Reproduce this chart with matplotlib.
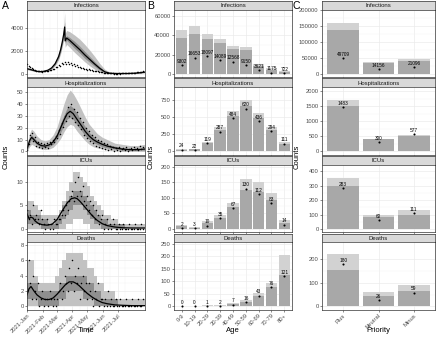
import numpy as np
import matplotlib
matplotlib.use('Agg')
import matplotlib.pyplot as plt
import matplotlib.dates as mdates
from matplotlib.ticker import FixedLocator, FuncFormatter

plt.rcParams['font.family'] = ['Liberation Sans', 'DejaVu Sans']

# ---------------- DATA ----------------
START = np.datetime64('2021-01-01')
END = np.datetime64('2021-08-24')

# Panel A: Infections
inf_days = [0, 7, 14, 21, 28, 35, 42, 49, 56, 63, 67, 70, 73, 75, 76, 79, 85, 95, 105, 115, 125, 135, 145, 155, 165, 180, 200, 220, 234]
inf_mid = [450, 380, 290, 220, 200, 240, 330, 520, 880, 1500, 2100, 2700, 3400, 4050, 2850, 3100, 2900, 2500, 2100, 1650, 1250, 850, 480, 180, 60, 40, 40, 80, 150]
inf_out_hi = [560, 470, 360, 280, 250, 300, 410, 640, 1060, 1800, 2450, 3100, 3900, 5300, 3500, 3750, 3650, 3350, 3000, 2550, 2050, 1500, 900, 400, 150, 80, 70, 120, 230]
inf_out_lo = [360, 300, 230, 170, 155, 185, 260, 410, 710, 1220, 1750, 2300, 2900, 3200, 2300, 2550, 2300, 1850, 1450, 1050, 700, 400, 150, 40, 10, 10, 10, 40, 90]
inf_in_hi = [500, 420, 320, 245, 225, 265, 365, 580, 970, 1650, 2300, 2900, 3650, 4500, 3050, 3300, 3150, 2800, 2400, 1950, 1500, 1050, 620, 250, 90, 55, 50, 95, 180]
inf_in_lo = [400, 340, 260, 195, 175, 215, 295, 460, 790, 1350, 1900, 2500, 3150, 3600, 2650, 2900, 2650, 2200, 1800, 1350, 1000, 650, 340, 110, 35, 25, 25, 60, 120]
inf_obs = [850, 720, 600, 480, 400, 330, 280, 260, 230, 240,
           210, 250, 230, 290, 270, 350, 330, 460, 420, 600,
           560, 780, 690, 980, 820, 1050, 880, 1000, 820, 930,
           760, 820, 660, 730, 580, 620, 500, 530, 430, 450,
           380, 400, 320, 340, 280, 270, 230, 220, 170, 150,
           130, 100, 90, 70, 60, 50, 40, 40, 30, 35,
           30, 40, 35, 45, 40, 55, 50, 70, 60, 90,
           80, 110, 100, 140, 130, 180, 170, 230]

# Panel A: Hospitalizations
hosp_days = [0, 5, 9, 14, 20, 28, 36, 44, 52, 60, 67, 74, 80, 86, 92, 100, 108, 116, 124, 132, 140, 150, 160, 175, 190, 205, 220, 234]
hosp_mid = [2, 9, 12, 10, 7, 5, 4.5, 5.5, 8, 13, 20, 27, 32, 34, 32, 27, 22, 17, 13, 10, 8, 6, 4.5, 3, 2, 1.5, 1.5, 2]
hosp_out_hi = [5, 15, 19, 17, 13, 10, 9, 10, 14, 21, 31, 41, 48, 52, 49, 43, 36, 29, 23, 19, 15, 12, 10, 7, 6, 5, 5, 6]
hosp_out_lo = [0, 4, 6, 5, 3, 2, 1.5, 2, 3.5, 7, 11, 17, 21, 23, 22, 17, 13, 9, 6, 4, 3, 2, 1, 0.5, 0, 0, 0, 0]
hosp_in_hi = [3, 11, 14, 12, 9, 6.5, 6, 7, 10, 16, 24, 31, 37, 39, 37, 32, 26, 21, 16, 13, 10, 8, 6, 4.5, 3, 2.5, 2.5, 3]
hosp_in_lo = [1, 7, 10, 8, 5.5, 3.5, 3, 4, 6, 10.5, 16, 23, 27.5, 29, 27, 22, 18, 13, 10, 7.5, 6, 4, 3, 2, 1, 1, 1, 1]
hosp_obs = [1, 6, 14, 16, 9, 12, 5, 8, 4, 7,
            3, 6, 4, 7, 3, 8, 6, 10, 8, 13,
            11, 18, 15, 24, 21, 30, 26, 38, 30, 40,
            28, 36, 25, 33, 22, 28, 19, 25, 14, 20,
            11, 17, 9, 14, 7, 12, 5, 10, 4, 9,
            3, 7, 2, 6, 1, 5, 2, 4, 0, 3,
            1, 4, 0, 2, 3, 1, 4, 0, 2, 3,
            1, 4, 2, 3, 1, 5, 2, 4]

# Panel A: ICUs
icu_days = [0, 4, 8, 12, 16, 22, 30, 40, 50, 60, 70, 80, 88, 95, 100, 106, 114, 122, 130, 140, 150, 160, 175, 190, 210, 234]
icu_mid = [3.2, 2.2, 2.5, 2.3, 1.7, 1.2, 0.9, 0.8, 1.0, 2.0, 3.8, 5.5, 6.4, 6.6, 6.4, 5.8, 4.8, 3.8, 2.8, 1.8, 1.1, 0.7, 0.4, 0.25, 0.2, 0.2]
icu_out_hi = [6, 6, 5, 4, 3, 3, 3, 3, 3, 4, 6, 8, 10, 12, 12, 11, 10, 9, 7, 6, 5, 4, 3, 3, 2, 2, 1, 1, 1, 1, 1, 1, 1, 1]
icu_out_lo = [0, 0, 0, 0, 0, 0, 0, 0, 0, 0, 0, 1, 1, 2, 2, 2, 1, 1, 0, 0, 0, 0, 0, 0, 0, 0, 0, 0, 0, 0, 0, 0, 0, 0]
icu_in_hi = [4, 3, 3, 3, 2, 2, 1, 1, 2, 3, 5, 6, 7, 8, 8, 8, 7, 6, 5, 4, 3, 2, 2, 1, 1, 1, 1, 1, 0, 0, 0, 0, 0, 0]
icu_in_lo = [1, 1, 1, 1, 0, 0, 0, 0, 0, 1, 2, 3, 4, 5, 5, 5, 4, 3, 2, 1, 1, 0, 0, 0, 0, 0, 0, 0, 0, 0, 0, 0, 0, 0]
icu_obs = [4, 2, 3, 1, 5, 2, 3, 2, 1, 4,
           2, 1, 0, 2, 1, 0, 1, 0, 2, 1,
           1, 2, 2, 3, 4, 3, 5, 4, 6, 7,
           8, 6, 10, 7, 11, 8, 7, 9, 6, 5,
           7, 4, 6, 3, 5, 2, 4, 3, 1, 2,
           3, 0, 1, 2, 0, 1, 0, 2, 1, 0,
           0, 1, 0, 0, 1, 0, 0, 0, 1, 0,
           0, 0, 1, 0, 0, 0, 1, 0]

# Panel A: Deaths
dth_days = [0, 4, 8, 14, 20, 28, 36, 44, 52, 60, 68, 76, 84, 92, 98, 104, 112, 120, 130, 140, 150, 160, 175, 190, 210, 234]
dth_mid = [1.5, 2.3, 2.6, 2.0, 1.5, 1.1, 0.9, 0.9, 1.1, 1.6, 2.2, 2.8, 3.2, 3.2, 3.0, 2.7, 2.2, 1.7, 1.2, 0.8, 0.5, 0.35, 0.2, 0.15, 0.1, 0.1]
dth_out_hi = [6, 6, 4, 3, 3, 3, 3, 3, 4, 5, 6, 7, 7, 7, 7, 7, 6, 5, 5, 4, 3, 3, 2, 2, 2, 1, 1, 1, 1, 1, 1, 1, 1, 1]
dth_out_lo = [0, 0, 0, 0, 0, 0, 0, 0, 0, 0, 0, 0, 0, 0, 0, 0, 0, 0, 0, 0, 0, 0, 0, 0, 0, 0, 0, 0, 0, 0, 0, 0, 0, 0]
dth_in_hi = [3, 3, 3, 2, 2, 2, 2, 2, 2, 3, 3, 4, 4, 4, 4, 4, 4, 3, 3, 2, 2, 1, 1, 1, 1, 1, 0, 0, 0, 0, 0, 0, 0, 0]
dth_in_lo = [1, 1, 1, 0, 0, 0, 0, 0, 0, 1, 1, 2, 2, 2, 2, 2, 1, 1, 1, 0, 0, 0, 0, 0, 0, 0, 0, 0, 0, 0, 0, 0, 0, 0]
dth_obs = [2, 6, 3, 1, 4, 2, 1, 3, 0, 1,
           2, 0, 1, 1, 0, 2, 1, 0, 1, 0,
           1, 2, 3, 1, 2, 4, 3, 2, 5, 3,
           6, 2, 4, 3, 5, 1, 3, 4, 2, 3,
           1, 3, 2, 1, 0, 2, 1, 3, 0, 1,
           1, 0, 1, 0, 2, 0, 1, 0, 0, 1,
           0, 0, 1, 0, 0, 0, 1, 0, 0, 0,
           1, 0, 0, 0, 1, 0, 0, 1]

# Panel B: by age
age_groups = ["0-9", "10-19", "20-29", "30-39", "40-49", "50-59", "60-69", "70-79", "80+"]
B_inf_med = [37000, 41000, 36000, 32000, 26000, 25000, 8500, 4000, 2000]
B_inf_hi = [45000, 50000, 41000, 36000, 29000, 28000, 10500, 6000, 3000]
B_inf_obs = [9302, 16653, 18097, 14089, 12568, 9150, 3621, 1175, 722]
B_hosp_med = [25, 30, 118, 305, 515, 655, 480, 305, 108]
B_hosp_hi = [35, 40, 140, 350, 580, 740, 560, 360, 135]
B_hosp_obs = [24, 22, 119, 287, 484, 620, 436, 294, 111]
B_icu_med = [10, 4, 18, 36, 72, 125, 118, 92, 20]
B_icu_hi = [14, 7, 24, 45, 85, 160, 150, 115, 28]
B_icu_obs = [2, 3, 10, 35, 67, 130, 112, 83, 14]
B_dth_med = [0.5, 0.5, 2, 3, 8, 18, 42, 78, 125]
B_dth_hi = [1, 1, 4, 5, 12, 25, 55, 95, 205]
B_dth_obs = [0, 0, 1, 2, 7, 16, 43, 76, 121]

# Panel C: by priority
priority = ["Plus", "Neutral", "Minus"]
C_inf_med = [137000, 33000, 40000]
C_inf_hi = [160000, 38000, 47000]
C_inf_obs = [49709, 14156, 21096]
C_hosp_med = [1520, 400, 500]
C_hosp_hi = [1700, 430, 560]
C_hosp_obs = [1483, 300, 577]
C_icu_med = [300, 80, 100]
C_icu_hi = [350, 95, 130]
C_icu_obs = [283, 60, 111]
C_dth_med = [155, 45, 65]
C_dth_hi = [225, 60, 90]
C_dth_obs = [180, 26, 59]

facets = ["Infections", "Hospitalizations", "ICUs", "Deaths"]

# ---------------- LAYOUT ----------------
W, H = 440, 337
fig = plt.figure(figsize=(4.4, 3.37), dpi=100)
fig.patch.set_facecolor('white')

def rect(x0, x1, y0, y1):
    return [x0 / W, 1 - y1 / H, (x1 - x0) / W, (y1 - y0) / H]

strip_tops = [1, 78.5, 156, 233.5]
SH, PB = 8.5, 76
cols = {'A': (27, 145), 'B': (174, 292), 'C': (322, 435)}
TICK_FS = 4.2

def make_panel(col, row, title):
    x0, x1 = cols[col]
    t = strip_tops[row]
    sax = fig.add_axes(rect(x0, x1, t, t + SH))
    sax.set_facecolor('#D9D9D9')
    sax.set_xticks([]); sax.set_yticks([])
    for s in sax.spines.values():
        s.set_color('#333333'); s.set_linewidth(0.5)
    sax.text(0.5, 0.45, title, ha='center', va='center', fontsize=4.3,
             color='#1A1A1A', transform=sax.transAxes)
    ax = fig.add_axes(rect(x0, x1, t + SH, t + PB))
    ax.set_facecolor('white')
    for s in ax.spines.values():
        s.set_color('#333333'); s.set_linewidth(0.5)
    ax.set_axisbelow(True)
    ax.grid(which='major', color='#EBEBEB', lw=0.5)
    ax.grid(which='minor', color='#F2F2F2', lw=0.3)
    ax.tick_params(which='major', length=1.5, width=0.4, color='#333333',
                   labelsize=TICK_FS, labelcolor='#4D4D4D', pad=1)
    ax.tick_params(which='minor', length=0)
    return ax

def set_y(ax, ticks, lo, hi):
    ax.set_ylim(lo, hi)
    ax.yaxis.set_major_locator(FixedLocator(ticks))
    mids = [(a + b) / 2 for a, b in zip(ticks[:-1], ticks[1:])]
    ax.yaxis.set_minor_locator(FixedLocator(mids))
    ax.yaxis.set_major_formatter(FuncFormatter(lambda v, p: f"{v:g}" if abs(v) < 1e5 else f"{int(v)}"))

def to_dates(days):
    return START + np.array(days).astype('timedelta64[D]')

LIGHT, DARK = '#C2C2C2', '#8F8F8F'

# ---- Panel A ----
a_specs = [
    (inf_days, inf_mid, inf_out_lo, inf_out_hi, inf_in_lo, inf_in_hi, inf_obs, False, [0, 2000, 4000], (-265, 5565)),
    (hosp_days, hosp_mid, hosp_out_lo, hosp_out_hi, hosp_in_lo, hosp_in_hi, hosp_obs, False, [0, 10, 20, 30, 40, 50], (-2.6, 54.6)),
    (icu_days, icu_mid, icu_out_lo, icu_out_hi, icu_in_lo, icu_in_hi, icu_obs, True, [0, 5, 10], (-0.65, 13.65)),
    (dth_days, dth_mid, dth_out_lo, dth_out_hi, dth_in_lo, dth_in_hi, dth_obs, True, [0, 2, 4, 6, 8], (-0.4, 8.4)),
]
for r, (d, mid, olo, ohi, ilo, ihi, obs, step, yt, yl) in enumerate(a_specs):
    ax = make_panel('A', r, facets[r])
    if step:
        wd = list(np.arange(len(ohi)) * 7) + [235]
        x = to_dates(wd)
        ax.fill_between(x, olo + [olo[-1]], ohi + [ohi[-1]], step='post', color=LIGHT, lw=0)
        ax.fill_between(x, ilo + [ilo[-1]], ihi + [ihi[-1]], step='post', color=DARK, lw=0)
    else:
        x = to_dates(d)
        ax.fill_between(x, olo, ohi, color=LIGHT, lw=0)
        ax.fill_between(x, ilo, ihi, color=DARK, lw=0)
    ax.plot(to_dates(np.arange(len(obs)) * 3), obs, 'o', ms=1.1, color='black', mew=0)
    ax.plot(to_dates(d), mid, color='black', lw=0.9)
    set_y(ax, yt, *yl)
    ax.set_xlim(START, END)
    ax.xaxis.set_major_locator(mdates.MonthLocator(bymonth=range(1, 8)))
    ax.xaxis.set_minor_locator(mdates.MonthLocator(bymonthday=16))
    ax.xaxis.set_major_formatter(mdates.DateFormatter('%Y-%b'))
    if r < 3:
        ax.tick_params(axis='x', labelbottom=False)
    else:
        for lab in ax.get_xticklabels():
            lab.set_rotation(45); lab.set_ha('right'); lab.set_rotation_mode('anchor')

# ---- Bars for B and C ----
def bar_panel(col, r, cats, med, hi, obs, yt, yl, bottom):
    ax = make_panel(col, r, facets[r])
    x = np.arange(len(cats))
    ax.bar(x, hi, width=0.9, color='#D2D2D2', lw=0)
    ax.bar(x, med, width=0.9, color='#A8A8A8', lw=0)
    ax.plot(x, obs, 'o', ms=1.5, color='black', mew=0)
    for xi, o in zip(x, obs):
        ax.annotate(str(o), (xi, o), xytext=(0, 1.0), textcoords='offset points',
                    ha='center', va='bottom', fontsize=3.4, color='black')
    ax.set_xlim(-0.6, len(cats) - 0.4)
    ax.set_xticks(x)
    ax.set_xticklabels(cats)
    set_y(ax, yt, *yl)
    if not bottom:
        ax.tick_params(axis='x', labelbottom=False)
    else:
        for lab in ax.get_xticklabels():
            lab.set_rotation(45); lab.set_ha('right'); lab.set_rotation_mode('anchor')
    return ax

b_specs = [
    (B_inf_med, B_inf_hi, B_inf_obs, [0, 20000, 40000, 60000], (-3170, 66650)),
    (B_hosp_med, B_hosp_hi, B_hosp_obs, [0, 250, 500, 750], (-44.5, 934.5)),
    (B_icu_med, B_icu_hi, B_icu_obs, [0, 50, 100, 150, 200], (-9.9, 208)),
    (B_dth_med, B_dth_hi, B_dth_obs, [0, 50, 100, 150, 200, 250], (-12.3, 257)),
]
for r, (m, h, o, yt, yl) in enumerate(b_specs):
    bar_panel('B', r, age_groups, m, h, o, yt, yl, r == 3)

c_specs = [
    (C_inf_med, C_inf_hi, C_inf_obs, [0, 50000, 100000, 150000, 200000], (-9500, 201000)),
    (C_hosp_med, C_hosp_hi, C_hosp_obs, [0, 500, 1000, 1500, 2000], (-102, 2148)),
    (C_icu_med, C_icu_hi, C_icu_obs, [0, 100, 200, 300, 400], (-21, 447)),
    (C_dth_med, C_dth_hi, C_dth_obs, [0, 100, 200], (-13, 274)),
]
for r, (m, h, o, yt, yl) in enumerate(c_specs):
    bar_panel('C', r, priority, m, h, o, yt, yl, r == 3)

# ---- Titles / labels ----
def ftext(x, y, s, **kw):
    fig.text(x / W, 1 - y / H, s, **kw)

ftext(2, 6, "A", fontsize=7.5, ha='left', va='center')
ftext(147, 6, "B", fontsize=7.5, ha='left', va='center')
ftext(292, 6, "C", fontsize=7.5, ha='left', va='center')
ftext(6, 157, "Counts", fontsize=5.5, rotation=90, ha='center', va='center')
ftext(151, 157, "Counts", fontsize=5.5, rotation=90, ha='center', va='center')
ftext(297, 157, "Counts", fontsize=5.5, rotation=90, ha='center', va='center')
ftext(86, 331, "Time", fontsize=5.5, ha='center', va='center')
ftext(233, 331, "Age", fontsize=5.5, ha='center', va='center')
ftext(378, 331, "Priority", fontsize=5.5, ha='center', va='center')

fig.savefig('out.png', dpi=100, facecolor='white')
